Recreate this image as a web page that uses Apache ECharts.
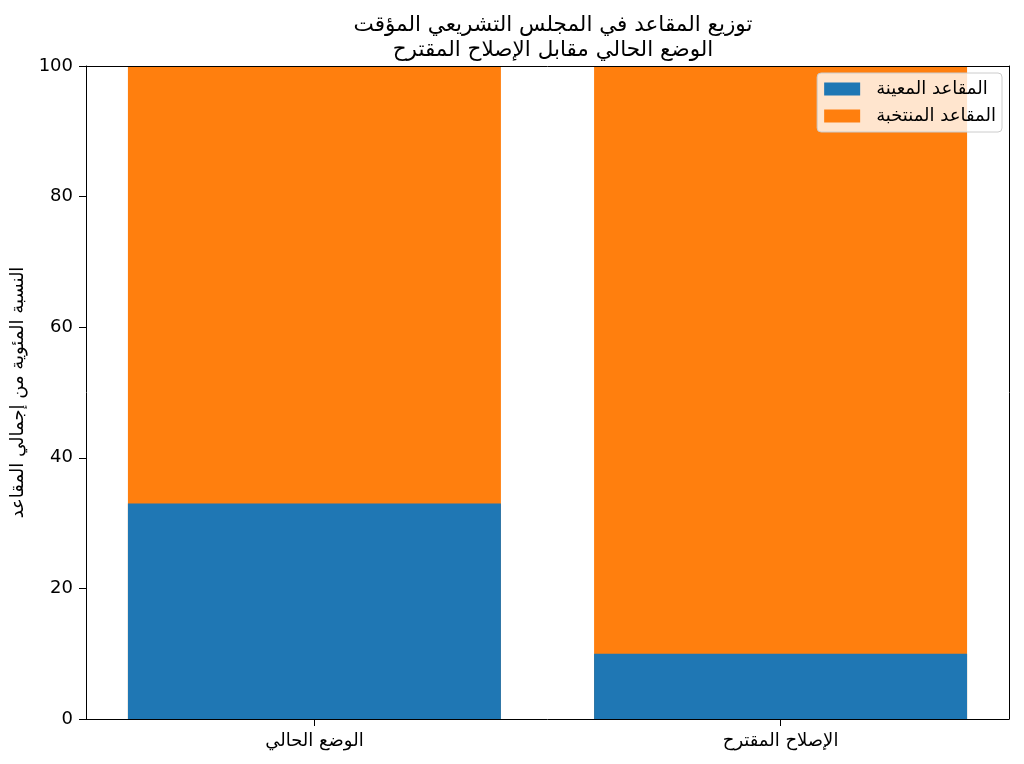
<!DOCTYPE html>
<html>
<head>
<meta charset="utf-8">
<script src="https://cdn.jsdelivr.net/npm/echarts@6/dist/echarts.min.js"></script>
<style>
html,body{margin:0;padding:0;background:#fff;}
#chart{width:1024px;height:764px;}
</style>
</head>
<body>
<div id="chart"></div>
<script>
const categories = ['الوضع الحالي', 'الإصلاح المقترح'];
const appointed = [33, 10];
const elected = [67, 90];
const seriesNames = ['المقاعد المعينة', 'المقاعد المنتخبة'];
const yTicks = [0, 20, 40, 60, 80, 100];
const titleLines = ['توزيع المقاعد في المجلس التشريعي المؤقت', 'الوضع الحالي مقابل الإصلاح المقترح'];
const yLabel = 'النسبة المئوية من إجمالي المقاعد';

const font = 'DejaVu Sans';
const positions = categories.map((c, i) => i);
// stacked top of the elected segment = appointed + elected (drawn behind appointed)
const stackedTop = elected.map((v, i) => appointed[i] + v);
const toPoints = vals => vals.map((v, i) => [positions[i], v]);

const axisLineStyle = {show: true, onZero: false, lineStyle: {color: '#000', width: 1}};
const chart = echarts.init(document.getElementById('chart'));
chart.setOption({
  animation: false,
  textStyle: {fontFamily: font},
  title: {
    text: titleLines.join('\n'),
    left: 548, top: 8, textAlign: 'center',
    textStyle: {fontFamily: font, fontSize: 21.5, fontWeight: 'normal', color: '#000', lineHeight: 25}
  },
  legend: {
    right: 22, top: 73, orient: 'vertical',
    itemWidth: 36, itemHeight: 13, itemGap: 9, itemTextGap: 5,
    padding: [7, 6, 7, 7],
    backgroundColor: 'rgba(255,255,255,0.8)',
    borderColor: '#cccccc', borderWidth: 1, borderRadius: 4,
    textStyle: {fontFamily: font, fontSize: 18, color: '#000', padding: [0, 0, 0, 11]},
    data: seriesNames.map(n => ({name: n, icon: 'rect'}))
  },
  grid: {left: 86, right: 15, top: 66, bottom: 45},
  xAxis: [{
    type: 'value', min: -0.49, max: 1.49, z: 10,
    axisLine: axisLineStyle,
    axisTick: {show: true, length: 7, customValues: positions, lineStyle: {color: '#000'}},
    axisLabel: {fontFamily: font, fontSize: 18, color: '#000', margin: 13,
      customValues: positions, formatter: v => categories[Math.round(v)]},
    splitLine: {show: false}
  }, {
    type: 'value', position: 'top', min: -0.49, max: 1.49, z: 10,
    axisLine: axisLineStyle, axisTick: {show: false}, axisLabel: {show: false}, splitLine: {show: false}
  }],
  yAxis: [{
    type: 'value', min: 0, max: 100, interval: 20, z: 10,
    name: yLabel, nameLocation: 'middle', nameGap: 57, nameRotate: 90,
    nameTextStyle: {fontFamily: font, fontSize: 18, color: '#000'},
    axisLine: axisLineStyle,
    axisTick: {show: true, length: 7, lineStyle: {color: '#000'}},
    axisLabel: {fontFamily: font, fontSize: 18, color: '#000', margin: 13,
      formatter: v => yTicks.includes(v) ? String(v) : ''},
    splitLine: {show: false}
  }, {
    type: 'value', position: 'right', min: 0, max: 100, z: 10,
    axisLine: axisLineStyle, axisTick: {show: false}, axisLabel: {show: false}, splitLine: {show: false}
  }],
  series: [
    {name: seriesNames[1], type: 'bar', xAxisIndex: 0, yAxisIndex: 0, z: 2,
     data: toPoints(stackedTop), barWidth: 373, barGap: '-100%', itemStyle: {color: '#ff7f0e'}},
    {name: seriesNames[0], type: 'bar', xAxisIndex: 0, yAxisIndex: 0, z: 3,
     data: toPoints(appointed), barWidth: 373, barGap: '-100%', itemStyle: {color: '#1f77b4'}}
  ]
});
</script>
</body>
</html>
